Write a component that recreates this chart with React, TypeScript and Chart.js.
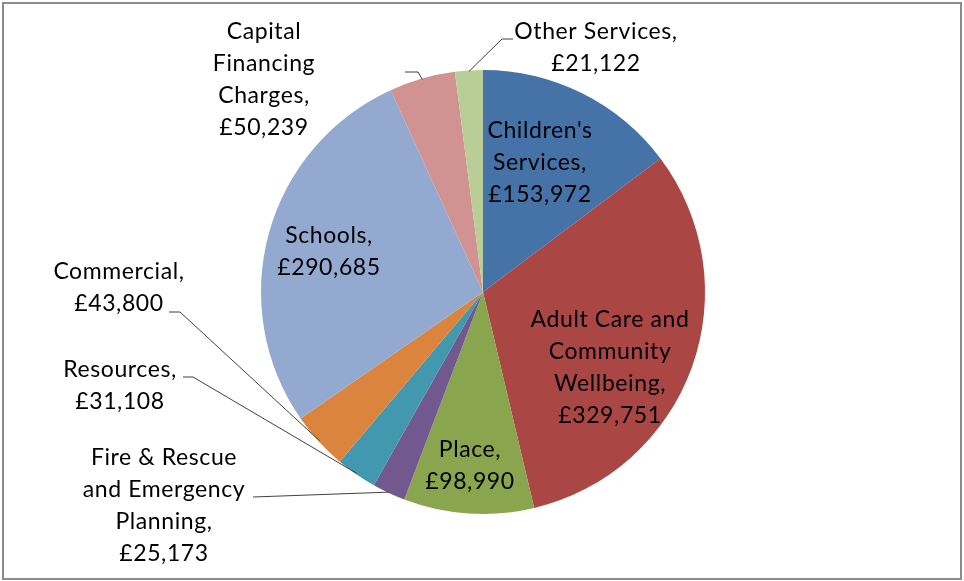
import React, { useEffect, useRef } from "react";
import { Chart, registerables } from "chart.js";

Chart.register(...registerables);

// Net budget by service area
const categories = [
  "Children's Services",
  "Adult Care and Community Wellbeing",
  "Place",
  "Fire & Rescue and Emergency Planning",
  "Resources",
  "Commercial",
  "Schools",
  "Capital Financing Charges",
  "Other Services",
];
const values = [153972, 329751, 98990, 25173, 31108, 43800, 290685, 50239, 21122];
// Label text lines (the formatted value is appended as the last line)
const labelLines = [
  ["Children's", "Services,"],
  ["Adult Care and", "Community", "Wellbeing,"],
  ["Place,"],
  ["Fire & Rescue", "and Emergency", "Planning,"],
  ["Resources,"],
  ["Commercial,"],
  ["Schools,"],
  ["Capital", "Financing", "Charges,"],
  ["Other Services,"],
];

const colors = [
  "#4572A7",
  "#AA4643",
  "#89A54E",
  "#71588F",
  "#4198AF",
  "#DB843D",
  "#93A9CF",
  "#D19392",
  "#B9CD96",
];

const fmt = (v: number) => "£" + v.toLocaleString("en-GB");

// Label placement, in pixels relative to the pie centre.
// cx/cy: centre of the text block; leader: points from the slice edge outwards.
type Place = {
  cx: number;
  cy: number;
  leader?: [number, number][];
};
const placement: Place[] = [
  { cx: 57, cy: -129 },
  { cx: 127, cy: 76 },
  { cx: -13, cy: 174 },
  { cx: -319, cy: 214, leader: [[-230, 205]] },
  { cx: -363, cy: 94, leader: [[-290, 85], [-300, 85]] },
  { cx: -364, cy: -4, leader: [[-303, 20], [-314, 20]] },
  { cx: -154, cy: -40 },
  { cx: -219, cy: -212, leader: [[-65, -220], [-78, -220]] },
  { cx: 113, cy: -244, leader: [[19, -253], [30, -253]] },
];

const FONT = '23px "Lato", "Open Sans", sans-serif';
const LINE_H = 32;

const labelPlugin = {
  id: "sliceLabels",
  afterDatasetsDraw(chart: any) {
    const ctx = chart.ctx as CanvasRenderingContext2D;
    const meta = chart.getDatasetMeta(0);
    ctx.save();
    ctx.font = FONT;
    (ctx as any).letterSpacing = "0.6px";
    ctx.fillStyle = "#000";
    ctx.textAlign = "center";
    ctx.textBaseline = "middle";
    meta.data.forEach((arc: any, i: number) => {
      const { x, y, startAngle, endAngle, outerRadius } = arc.getProps(
        ["x", "y", "startAngle", "endAngle", "outerRadius"],
        true
      );
      const p = placement[i];
      const lines = [...labelLines[i], fmt(values[i])];
      const bx = x + p.cx;
      const by = y + p.cy;
      if (p.leader) {
        const mid = (startAngle + endAngle) / 2;
        const ex = x + Math.cos(mid) * (outerRadius - 1);
        const ey = y + Math.sin(mid) * (outerRadius - 1);
        ctx.beginPath();
        ctx.strokeStyle = "#404040";
        ctx.lineWidth = 1;
        ctx.moveTo(ex, ey);
        p.leader.forEach(([lx, ly]) => ctx.lineTo(x + lx, y + ly));
        ctx.stroke();
      }
      const top = by - ((lines.length - 1) * LINE_H) / 2;
      lines.forEach((t, k) => ctx.fillText(t, bx, top + k * LINE_H));
    });
    ctx.restore();
  },
};

export default function App() {
  const ref = useRef<HTMLCanvasElement>(null);
  useEffect(() => {
    if (!ref.current) return;
    const chart = new Chart(ref.current, {
      type: "pie",
      data: {
        labels: categories,
        datasets: [
          {
            data: values,
            backgroundColor: colors,
            borderWidth: 0,
          },
        ],
      },
      options: {
        animation: false,
        responsive: false,
        maintainAspectRatio: false,
        layout: { padding: { left: 261, right: 259, top: 70, bottom: 67 } },
        plugins: {
          legend: { display: false },
          tooltip: { enabled: false },
        },
      },
      plugins: [labelPlugin],
    });
    return () => chart.destroy();
  }, []);
  return (
    <div
      style={{
        position: "fixed",
        left: 0,
        top: 0,
        width: 964,
        height: 581,
        background: "#fff",
      }}
    >
      <div
        style={{
          position: "absolute",
          left: 2,
          top: 2,
          width: 960,
          height: 578,
          border: "2px solid #8c8c8c",
          boxSizing: "border-box",
        }}
      />
      <canvas
        ref={ref}
        width={964}
        height={581}
        style={{ position: "absolute", left: 0, top: 0, width: 964, height: 581 }}
      />
    </div>
  );
}
